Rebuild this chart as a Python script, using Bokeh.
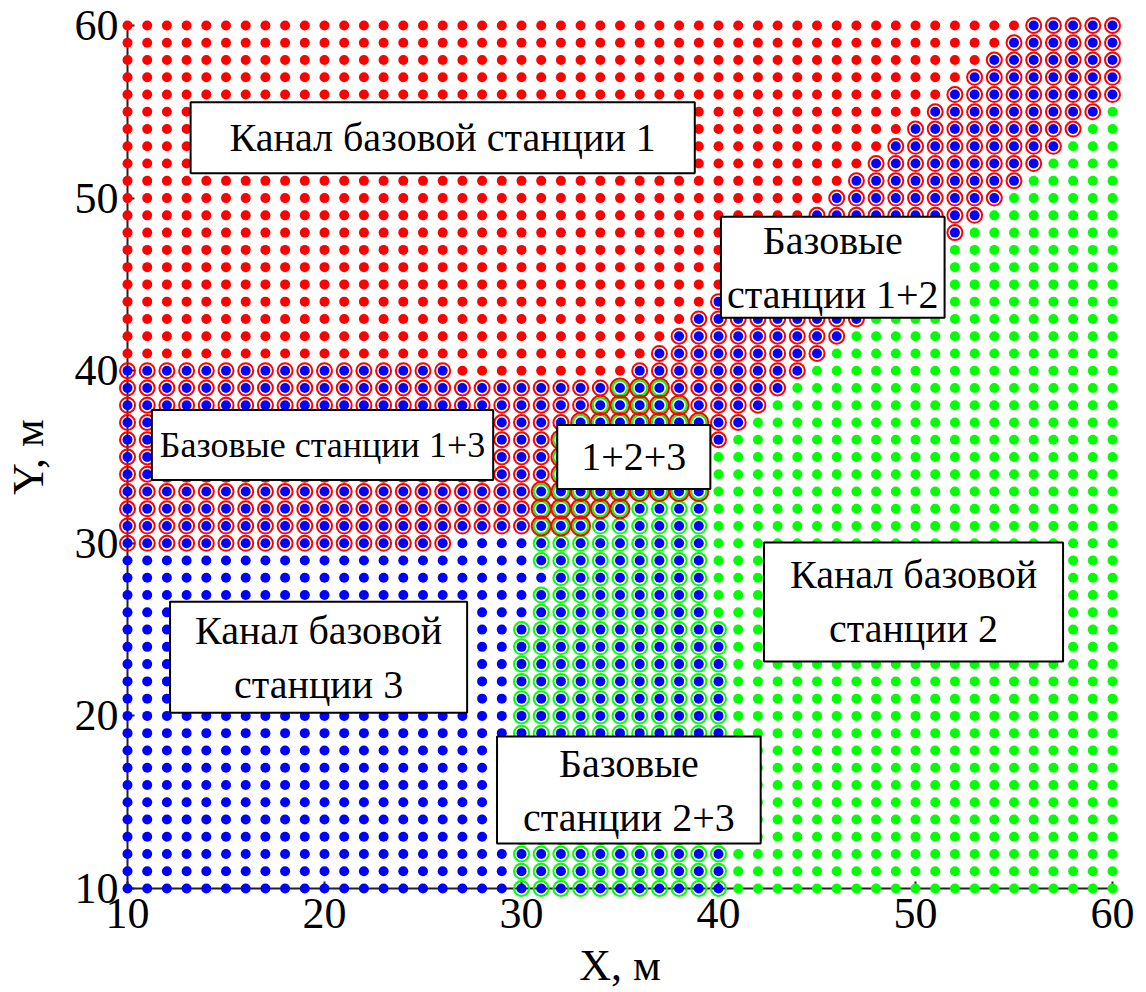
from bokeh.plotting import figure
from bokeh.models import Label, FixedTicker, ColumnDataSource
from bokeh.embed import file_html
from bokeh.resources import INLINE

# ---------------- data ----------------
# upper rows (y = 41..60): red dots up to top_red_last, then
# blue dots with red ring (stations 1+2) up to top_ring_last, then green
top_rows = list(range(41, 61))
top_red_last = [36, 37, 38, 39, 40, 41, 42, 43, 44, 45, 46, 47, 48, 49, 50, 51, 52, 53, 54, 55]
top_ring_last = [45, 46, 47, 48, 49, 50, 51, 52, 53, 54, 55, 56, 57, 58, 59, 60, 60, 60, 60, 60]

# middle rows (y = 40..30): runs "code x_first x_last"
mid_rows = [40, 39, 38, 37, 36, 35, 34, 33, 32, 31, 30]
mid_runs = [
    "BR 10 26|R 27 35|BR 36 44|G 45 60",
    "BR 10 34|BRG 35 37|BR 38 43|G 44 60",
    "BR 10 33|BRG 34 38|BR 39 42|G 43 60",
    "BR 10 32|BRG 33 39|BR 40 41|G 42 60",
    "BR 10 31|BRG 32 39|BR 40 40|G 41 60",
    "BR 10 31|BRG 32 39|G 40 60",
    "BR 10 31|BRG 32 39|G 40 60",
    "BR 10 30|BRG 31 39|G 40 60",
    "BR 10 30|BRG 31 35|BG 36 39|G 40 60",
    "BR 10 30|BRG 31 33|BG 34 39|G 40 60",
    "BR 10 26|B 27 30|BG 31 39|G 40 60",
]

# lower rows (y = 29..10)
low_rows = [29, 28, 27, 26] + list(range(25, 9, -1))
low_runs = (["B 10 30|BG 31 39|G 40 60",
             "B 10 31|BG 32 39|G 40 60",
             "B 10 30|BG 31 39|G 40 60",
             "B 10 30|BG 31 39|G 40 60"]
            + ["B 10 29|BG 30 40|G 41 60"] * 16)

x_ticks = [10, 20, 30, 40, 50, 60]
y_ticks = [10, 20, 30, 40, 50, 60]

# ---------------- build point sets ----------------
pts = {k: ([], []) for k in ["R", "G", "B", "BR", "BG", "BRG"]}


def add_run(code, x0, x1, y):
    for x in range(x0, x1 + 1):
        pts[code][0].append(x)
        pts[code][1].append(y)


for y, rl, gl in zip(top_rows, top_red_last, top_ring_last):
    add_run("R", 10, rl, y)
    add_run("BR", rl + 1, gl, y)
    add_run("G", gl + 1, 60, y)

for rows, runs in ((mid_rows, mid_runs), (low_rows, low_runs)):
    for y, s in zip(rows, runs):
        for part in s.split("|"):
            c, a, b = part.split()
            add_run(c, int(a), int(b), y)

# ---------------- figure ----------------
p = figure(width=1146, height=992, x_range=(10, 60), y_range=(10, 60),
           output_backend="svg", toolbar_location=None,
           min_border_left=127, min_border_right=34,
           min_border_top=25, min_border_bottom=104)
p.outline_line_color = None
p.grid.visible = False
p.background_fill_color = "white"
p.border_fill_color = "white"

FONT = "Liberation Serif"
RED, GREEN, BLUE = "#ff0000", "#00ff00", "#0000ff"


def src(k):
    return ColumnDataSource(dict(x=pts[k][0], y=pts[k][1]))


dot = 10
ring_small = 15
ring_big = 19

p.scatter("x", "y", source=src("R"), size=dot, fill_color=RED, line_color=None, level="overlay")
p.scatter("x", "y", source=src("G"), size=dot, fill_color=GREEN, line_color=None, level="overlay")
p.scatter("x", "y", source=src("B"), size=dot, fill_color=BLUE, line_color=None, level="overlay")

for k in ["BR", "BG", "BRG"]:
    s = src(k)
    p.scatter("x", "y", source=s, size=dot, fill_color=BLUE, line_color=None, level="overlay")
    if k == "BR":
        p.scatter("x", "y", source=s, size=ring_small, fill_color=None,
                  line_color=RED, line_width=2, level="overlay")
    elif k == "BG":
        p.scatter("x", "y", source=s, size=ring_small, fill_color=None,
                  line_color=GREEN, line_width=2, level="overlay")
    else:
        p.scatter("x", "y", source=s, size=ring_small, fill_color=None,
                  line_color=GREEN, line_width=2, level="overlay")
        p.scatter("x", "y", source=s, size=ring_big, fill_color=None,
                  line_color=RED, line_width=2, level="overlay")

# axes
for ax, t in ((p.xaxis, x_ticks), (p.yaxis, y_ticks)):
    ax.ticker = FixedTicker(ticks=t)
    ax.minor_tick_line_color = None
    ax.major_tick_in = 7
    ax.major_tick_out = 0
    ax.major_tick_line_width = 2
    ax.major_tick_line_color = "#222222"
    ax.axis_line_width = 2
    ax.axis_line_color = "#222222"
    ax.major_label_text_font = FONT
    ax.major_label_text_font_size = "44px"
    ax.major_label_text_color = "black"
    ax.axis_label_text_font = FONT
    ax.axis_label_text_font_size = "44px"
    ax.axis_label_text_font_style = "normal"
    ax.axis_label_text_color = "black"

p.xaxis.major_label_standoff = 10
p.xaxis.axis_label_standoff = 10
p.yaxis.major_label_standoff = 9
p.yaxis.axis_label_standoff = 19

p.xaxis.axis_label = "X, м"
p.yaxis.axis_label = "Y, м"
p.yaxis.major_label_orientation = "horizontal"

# text boxes: (x, y, text, font size, padding (horizontal, vertical))
boxes = [
    (26.0, 53.5, "Канал базовой станции 1", "40px", (39, 13)),
    (45.8, 46.0, "Базовые\nстанции 1+2", "40px", (6, 1)),
    (19.9, 35.7, "Базовые станции 1+3", "36px", (8, 15)),
    (35.7, 35.0, "1+2+3", "40px", (24, 19)),
    (49.9, 26.6, "Канал базовой\nстанции 2", "40px", (26, 10)),
    (19.7, 23.4, "Канал базовой\nстанции 3", "40px", (25, 6)),
    (35.45, 15.7, "Базовые\nстанции 2+3", "40px", (26, 4)),
]
for bx, by, txt, fs, pad in boxes:
    lab = Label(x=bx, y=by, text=txt, text_font=FONT, text_font_size=fs,
                text_align="center", text_baseline="middle", text_color="black",
                background_fill_color="white", border_line_color="black",
                border_line_width=2, padding=pad, level="overlay")
    p.add_layout(lab)

open("out.html", "w").write(file_html(p, INLINE))
